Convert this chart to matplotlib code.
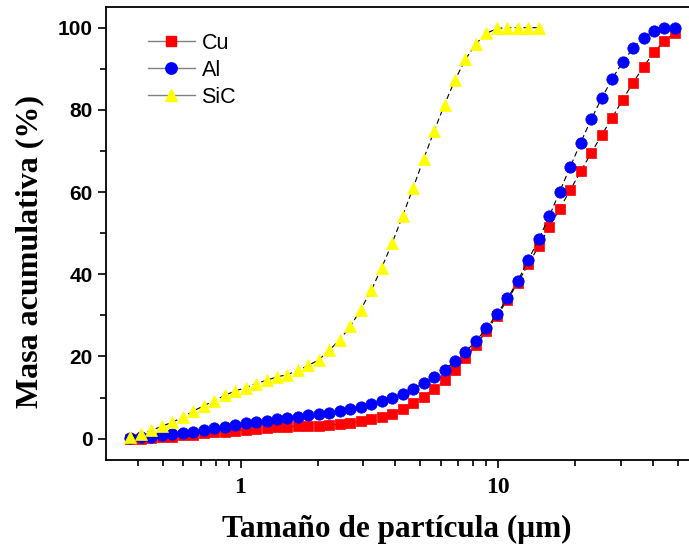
import matplotlib
matplotlib.use("Agg")
import matplotlib.pyplot as plt
from matplotlib.lines import Line2D
from matplotlib.ticker import FixedLocator, NullFormatter

# particle size bins (um)
sizes = [0.373, 0.410, 0.450, 0.494, 0.543, 0.596, 0.655, 0.719, 0.790, 0.867,
         0.953, 1.046, 1.149, 1.262, 1.386, 1.522, 1.672, 1.836, 2.016, 2.214,
         2.432, 2.671, 2.933, 3.221, 3.538, 3.885, 4.267, 4.686, 5.146, 5.652,
         6.209, 6.819, 7.489, 8.224, 9.033, 9.920, 10.894, 11.964, 13.14, 14.43,
         15.85, 17.40, 19.11, 20.99, 23.06, 25.32, 27.81, 30.54, 33.54, 36.84,
         40.46, 44.43, 48.80]

cu = [0.0, 0.0, 0.1, 0.3, 0.45, 0.8, 1.0, 1.25, 1.5, 1.7,
      1.9, 2.15, 2.4, 2.6, 2.8, 2.9, 3.0, 3.1, 3.15, 3.3,
      3.5, 3.8, 4.2, 4.7, 5.3, 6.1, 7.2, 8.6, 10.2, 12.0,
      14.2, 16.8, 19.6, 22.7, 26.2, 29.9, 33.7, 37.9, 42.5, 46.8,
      51.5, 55.9, 60.5, 65.0, 69.5, 73.8, 78.1, 82.4, 86.6, 90.5,
      94.0, 96.8, 98.7]

al = [0.2, 0.3, 0.5, 0.85, 1.1, 1.4, 1.7, 2.1, 2.5, 2.9,
      3.3, 3.7, 4.0, 4.4, 4.7, 5.1, 5.3, 5.65, 6.0, 6.35,
      6.8, 7.25, 7.7, 8.4, 9.05, 9.9, 10.9, 12.1, 13.5, 15.0,
      16.8, 18.85, 21.1, 23.8, 26.8, 30.3, 34.1, 38.4, 43.5, 48.5,
      54.1, 60.1, 66.1, 72.0, 77.7, 82.8, 87.5, 91.6, 95.0, 97.6,
      99.2, 99.9, 100.0]

sic = [0.5, 1.1, 2.0, 3.0, 4.0, 5.2, 6.7, 8.0, 9.2, 10.5,
       11.6, 12.4, 13.4, 14.2, 15.0, 15.6, 16.6, 17.8, 19.2, 21.5,
       24.1, 27.3, 31.4, 36.1, 41.6, 47.6, 54.2, 61.0, 68.0, 74.8,
       81.3, 87.3, 92.3, 96.1, 98.6, 99.8, 100.0, 100.0, 100.0, 100.0]

series_names = ["Cu", "Al", "SiC"]
x_ticks = [1, 10]
x_ticklabels = ["1", "10"]
y_ticks = [0, 20, 40, 60, 80, 100]

W, H = 689, 553
fig = plt.figure(figsize=(W / 100, H / 100), dpi=100)
L, R, B, T = 106, 698, 460, 6.7
ax = fig.add_axes([L / W, 1 - B / H, (R - L) / W, (B - T) / H])

styles = [
    dict(marker="s", color="#ff0000", ms=7.2),
    dict(marker="o", color="#0000ff", ms=8.2),
    dict(marker="^", color="#ffff00", ms=8.6),
]
data = [cu, al, sic]
for name, ys, st in zip(series_names, data, styles):
    ax.plot(sizes[:len(ys)], ys, linestyle=(0, (5, 3)), color="black", lw=0.8,
            marker=st["marker"], ms=st["ms"], mfc=st["color"], mec=st["color"],
            mew=0.5, label=name)

ax.set_xscale("log")
ax.set_xlim(0.3, 60)
ax.set_ylim(-5.2, 105.1)

ax.xaxis.set_major_locator(FixedLocator(x_ticks))
ax.set_xticklabels(x_ticklabels)
minor_x = [0.4, 0.5, 0.6, 0.7, 0.8, 0.9, 2, 3, 4, 5, 6, 7, 8, 9, 20, 30, 40, 50]
ax.xaxis.set_minor_locator(FixedLocator(minor_x))
ax.xaxis.set_minor_formatter(NullFormatter())
ax.yaxis.set_major_locator(FixedLocator(y_ticks))
ax.yaxis.set_minor_locator(FixedLocator([10, 30, 50, 70, 90]))

for s in ["left", "bottom", "top", "right"]:
    ax.spines[s].set_linewidth(1.3)
ax.tick_params(which="both", direction="out", top=False, right=False, width=1.2)
ax.tick_params(which="major", length=6)
ax.tick_params(which="minor", length=4)

for lab in ax.get_yticklabels():
    lab.set_fontfamily("Liberation Sans")
    lab.set_fontweight("bold")
    lab.set_fontsize(15)
for lab in ax.get_xticklabels():
    lab.set_fontfamily("Liberation Serif")
    lab.set_fontweight("bold")
    lab.set_fontsize(17)
ax.tick_params(axis="x", pad=6.5)
ax.tick_params(axis="y", pad=3.5)

# legend
handles = [Line2D([0], [0], color="#808080", lw=1.0, marker=st["marker"],
                  ms=st["ms"], mfc=st["color"], mec=st["color"]) for st in styles]
leg = ax.legend(handles, series_names, loc="upper left",
                bbox_to_anchor=((147.7 - L) / (R - L), (B - 33) / (B - T)),
                frameon=False, prop=dict(family="Liberation Sans", size=15.5),
                handlelength=2.2, handletextpad=0.3, labelspacing=0.27,
                borderpad=0, borderaxespad=0)

# y label
fig.text(30 / W, 1 - 252 / H, "Masa acumulativa (%)", rotation=90, ha="center",
         va="center", family="Liberation Serif", weight="bold", fontsize=23)

# x label
fig.text(397 / W, 1 - 537 / H, "Tamaño de partícula (μm)", ha="center",
         va="baseline", family="Liberation Serif", weight="bold", fontsize=22.5)

fig.savefig("out.png", dpi=100)
